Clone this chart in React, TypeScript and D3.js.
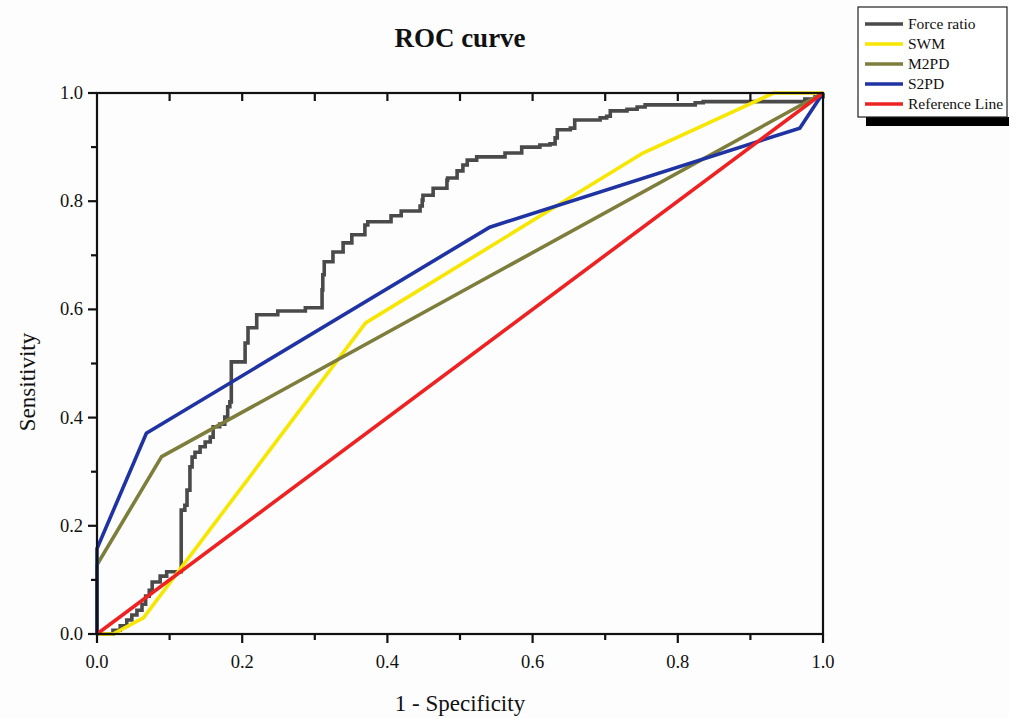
import React, { useEffect, useRef } from "react";
import * as d3 from "d3";

// Force ratio step curve (1 - specificity, sensitivity)
const forceX = [0, 0.022, 0.032, 0.041, 0.048, 0.055, 0.062, 0.067, 0.072, 0.076, 0.087, 0.096, 0.116, 0.116, 0.121, 0.124, 0.128, 0.131, 0.135, 0.142, 0.149, 0.156, 0.16, 0.169, 0.176, 0.18, 0.183, 0.185, 0.204, 0.208, 0.22, 0.249, 0.287, 0.31, 0.311, 0.313, 0.325, 0.339, 0.351, 0.369, 0.373, 0.405, 0.419, 0.445, 0.448, 0.449, 0.463, 0.482, 0.483, 0.496, 0.504, 0.51, 0.523, 0.562, 0.585, 0.61, 0.624, 0.631, 0.634, 0.652, 0.658, 0.693, 0.702, 0.707, 0.73, 0.744, 0.755, 0.824, 0.835, 0.975, 0.989, 1];
const forceY = [0, 0.007, 0.015, 0.026, 0.035, 0.044, 0.055, 0.07, 0.081, 0.096, 0.107, 0.115, 0.118, 0.229, 0.238, 0.266, 0.309, 0.327, 0.336, 0.346, 0.355, 0.364, 0.383, 0.388, 0.401, 0.42, 0.429, 0.503, 0.538, 0.566, 0.59, 0.597, 0.603, 0.636, 0.664, 0.688, 0.706, 0.723, 0.738, 0.756, 0.762, 0.773, 0.782, 0.791, 0.802, 0.811, 0.824, 0.839, 0.843, 0.856, 0.867, 0.876, 0.882, 0.889, 0.9, 0.904, 0.906, 0.917, 0.932, 0.935, 0.95, 0.954, 0.957, 0.967, 0.97, 0.974, 0.978, 0.982, 0.984, 0.989, 0.993, 1];

const swmX = [0, 0.022, 0.064, 0.37, 0.752, 0.932, 1];
const swmY = [0, 0, 0.03, 0.575, 0.889, 1, 1];

const m2pdX = [0, 0, 0.089, 1];
const m2pdY = [0, 0.128, 0.328, 1];

const s2pdX = [0, 0, 0.068, 0.541, 0.968, 1];
const s2pdY = [0, 0.158, 0.371, 0.752, 0.935, 1];

const refX = [0, 1];
const refY = [0, 1];

const legendNames = ["Force ratio", "SWM", "M2PD", "S2PD", "Reference Line"];
const colors = ["#4a4a4a", "#f7e600", "#7d7d3c", "#1f33a3", "#ee2222"];

const majorTicks = [0, 0.2, 0.4, 0.6, 0.8, 1.0];
const minorTicks = [0.1, 0.3, 0.5, 0.7, 0.9];

const W = 1009;
const H = 718;
const margin = { left: 97, right: 186, top: 93, bottom: 84 };

const App = () => {
  const svgRef = useRef<SVGSVGElement>(null);

  useEffect(() => {
    const svg = d3.select(svgRef.current);
    svg.selectAll("*").remove();
    const font = "'Liberation Serif', 'Times New Roman', serif";

    const x = d3.scaleLinear().domain([0, 1]).range([margin.left, W - margin.right]);
    const y = d3.scaleLinear().domain([0, 1]).range([H - margin.bottom, margin.top]);

    svg.append("rect").attr("width", W).attr("height", H).attr("fill", "#fdfdfd");

    const pts = (xs: number[], ys: number[]) => xs.map((v, i) => [v, ys[i]] as [number, number]);
    const lin = d3.line<[number, number]>().x((d) => x(d[0])).y((d) => y(d[1]));
    const step = d3.line<[number, number]>().x((d) => x(d[0])).y((d) => y(d[1])).curve(d3.curveStepAfter);

    const series = [
      { d: pts(forceX, forceY), gen: step, c: colors[0] },
      { d: pts(swmX, swmY), gen: lin, c: colors[1] },
      { d: pts(m2pdX, m2pdY), gen: lin, c: colors[2] },
      { d: pts(s2pdX, s2pdY), gen: lin, c: colors[3] },
      { d: pts(refX, refY), gen: lin, c: colors[4] },
    ];
    series.forEach((s) => {
      svg.append("path")
        .attr("d", s.gen(s.d))
        .attr("fill", "none")
        .attr("stroke", s.c)
        .attr("stroke-width", 3.6)
        .attr("stroke-linejoin", "miter");
    });

    // frame
    const ax = svg.append("g").attr("stroke", "#111").attr("stroke-width", 2.2);
    ax.append("rect")
      .attr("x", x(0)).attr("y", y(1))
      .attr("width", x(1) - x(0)).attr("height", y(0) - y(1))
      .attr("fill", "none");

    // bottom and left ticks, outward
    majorTicks.forEach((t) => {
      ax.append("line").attr("x1", x(t)).attr("x2", x(t)).attr("y1", y(0)).attr("y2", y(0) + 9);
      ax.append("line").attr("x1", x(0)).attr("x2", x(0) - 9).attr("y1", y(t)).attr("y2", y(t));
    });
    minorTicks.forEach((t) => {
      ax.append("line").attr("x1", x(t)).attr("x2", x(t)).attr("y1", y(0)).attr("y2", y(0) + 6);
      ax.append("line").attr("x1", x(0)).attr("x2", x(0) - 6).attr("y1", y(t)).attr("y2", y(t));
    });
    // top ticks inward
    [...majorTicks, ...minorTicks].forEach((t) => {
      if (t === 0 || t === 1) return;
      ax.append("line").attr("x1", x(t)).attr("x2", x(t)).attr("y1", y(1)).attr("y2", y(1) + 8);
    });

    const fmt = d3.format(".1f");
    majorTicks.forEach((t) => {
      svg.append("text")
        .attr("x", x(t)).attr("y", y(0) + 34)
        .attr("text-anchor", "middle")
        .attr("font-family", font).attr("font-size", 18.5).attr("fill", "#111")
        .text(fmt(t));
      svg.append("text")
        .attr("x", x(0) - 14).attr("y", y(t) + 6)
        .attr("text-anchor", "end")
        .attr("font-family", font).attr("font-size", 18.5).attr("fill", "#111")
        .text(fmt(t));
    });

    svg.append("text")
      .attr("x", 460).attr("y", 47)
      .attr("text-anchor", "middle")
      .attr("font-family", font).attr("font-size", 27).attr("font-weight", "bold").attr("fill", "#111")
      .text("ROC curve");

    svg.append("text")
      .attr("x", 460).attr("y", 711)
      .attr("text-anchor", "middle")
      .attr("font-family", font).attr("font-size", 23).attr("fill", "#111")
      .text("1 - Specificity");

    svg.append("text")
      .attr("transform", "translate(35,382) rotate(-90)")
      .attr("text-anchor", "middle")
      .attr("font-family", font).attr("font-size", 23).attr("fill", "#111")
      .text("Sensitivity");

    // legend
    const lg = svg.append("g").attr("transform", "translate(858,7)");
    lg.append("rect").attr("x", 8).attr("y", 110).attr("width", 150).attr("height", 9).attr("fill", "#000");
    lg.append("rect").attr("x", 0).attr("y", 0).attr("width", 149).attr("height", 110)
      .attr("fill", "#fff").attr("stroke", "#222").attr("stroke-width", 1.2);
    legendNames.forEach((n, i) => {
      const yy = 17 + i * 20;
      lg.append("line").attr("x1", 7).attr("x2", 45).attr("y1", yy).attr("y2", yy)
        .attr("stroke", colors[i]).attr("stroke-width", 3.5);
      lg.append("text").attr("x", 50).attr("y", yy + 5)
        .attr("font-family", font).attr("font-size", 15.5).attr("fill", "#111")
        .text(n);
    });
  }, []);

  return (
    <svg
      ref={svgRef}
      width={W}
      height={H}
      style={{ position: "absolute", left: 0, top: 0, display: "block" }}
    ></svg>
  );
};

export default App;
